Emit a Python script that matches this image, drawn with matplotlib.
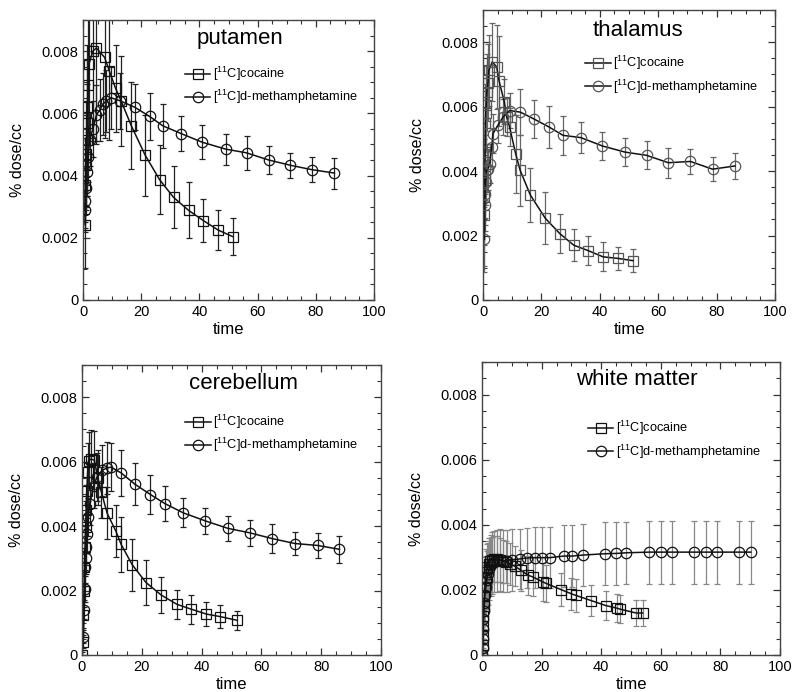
import numpy as np
import matplotlib
matplotlib.use("Agg")
import matplotlib.pyplot as plt
from matplotlib.ticker import MultipleLocator, FuncFormatter

plt.rcParams['font.family'] = ['Liberation Sans', 'DejaVu Sans']
plt.rcParams['mathtext.default'] = 'regular'

# ---------------- data (values in units of 1e-3 % dose/cc) ----------------
put_coc_t = [0.7, 0.8, 0.9, 1.1, 1.3, 1.4, 1.5, 1.8, 2.1, 3.4, 4.6, 7.4, 9.1, 11.2, 13.1, 16.6, 21.4, 26.3, 31.1, 36.3, 41.4, 46.4, 51.4]
put_coc_v = [2.42, 3.7, 4.35, 4.7, 5.15, 5.7, 6.2, 6.9, 7.6, 8.0, 8.1, 7.8, 7.35, 6.8, 6.4, 5.6, 4.65, 3.87, 3.3, 2.88, 2.55, 2.25, 2.04]
put_coc_e = [1.4, 1.5, 1.6, 1.7, 1.8, 2.0, 2.0, 2.2, 2.5, 2.8, 3.0, 2.6, 2.2, 1.4, 1.45, 1.4, 1.3, 1.1, 1.0, 0.9, 0.7, 0.65, 0.6]
put_met_t = [0.6, 0.7, 0.9, 1.3, 1.7, 2.3, 3.4, 4.6, 5.7, 6.9, 8.0, 9.7, 12.8, 17.7, 22.9, 27.4, 33.7, 41.0, 49.0, 56.2, 63.8, 71.3, 78.6, 86.4]
put_met_v = [2.9, 3.17, 3.6, 4.1, 4.6, 5.15, 5.5, 5.95, 6.1, 6.3, 6.4, 6.5, 6.4, 6.2, 5.9, 5.6, 5.35, 5.07, 4.85, 4.73, 4.5, 4.33, 4.19, 4.08]
put_met_e = [0.6, 0.65, 0.7, 0.75, 0.8, 0.85, 0.9, 0.95, 1.0, 1.0, 1.0, 1.0, 0.9, 0.75, 0.75, 0.7, 0.55, 0.55, 0.5, 0.55, 0.45, 0.4, 0.4, 0.5]

tha_coc_t = [0.4, 0.5, 0.6, 0.7, 0.8, 0.9, 1.1, 1.3, 1.7, 2.0, 3.2, 4.7, 5.5, 7.3, 8.1, 9.1, 11.2, 12.7, 16.2, 21.3, 26.3, 31.1, 36.1, 41.1, 46.3, 51.4]
tha_coc_v = [2.64, 3.2, 3.72, 4.6, 5.5, 5.8, 6.05, 6.45, 6.75, 7.13, 7.39, 7.23, 6.8, 6.15, 5.68, 5.37, 4.53, 4.03, 3.26, 2.54, 2.06, 1.7, 1.53, 1.34, 1.29, 1.22]
tha_coc_e = [1.6, 1.5, 1.4, 1.3, 1.2, 1.2, 1.2, 1.2, 1.2, 1.1, 1.2, 1.3, 1.4, 0.7, 0.6, 0.6, 1.2, 1.1, 0.85, 0.8, 0.6, 0.5, 0.45, 0.45, 0.35, 0.35]
tha_met_t = [0.5, 0.6, 0.7, 0.9, 1.2, 1.6, 2.3, 3.0, 3.4, 5.1, 6.9, 9.1, 12.8, 17.4, 22.6, 27.4, 33.5, 40.9, 48.6, 56.0, 63.5, 71.0, 78.6, 86.3]
tha_met_v = [1.88, 2.94, 3.3, 3.66, 4.02, 4.05, 4.23, 4.75, 5.16, 5.42, 5.68, 5.88, 5.83, 5.62, 5.37, 5.11, 5.04, 4.78, 4.59, 4.49, 4.26, 4.3, 4.06, 4.16]
tha_met_e = [1.0, 0.8, 0.75, 0.7, 0.65, 0.65, 0.6, 0.6, 0.6, 0.55, 0.55, 0.55, 0.72, 0.6, 0.65, 0.6, 0.49, 0.44, 0.44, 0.44, 0.46, 0.39, 0.38, 0.4]

cer_coc_t = [0.1, 0.3, 0.5, 0.7, 0.8, 1.0, 1.2, 1.4, 1.6, 1.9, 2.2, 3.0, 4.1, 5.3, 6.5, 8.4, 11.3, 13.1, 16.8, 21.4, 26.5, 31.8, 36.6, 41.6, 46.3, 51.7]
cer_coc_v = [0.0, 0.41, 1.24, 2.0, 2.73, 3.35, 3.97, 4.49, 5.1, 5.67, 6.03, 6.08, 6.05, 5.5, 5.05, 4.4, 3.85, 3.43, 2.8, 2.25, 1.86, 1.57, 1.42, 1.27, 1.19, 1.08]
cer_coc_e = [0.1, 0.2, 0.4, 0.5, 0.6, 0.7, 0.8, 0.8, 0.85, 0.9, 0.9, 0.9, 0.9, 0.85, 0.8, 0.8, 0.8, 0.85, 0.8, 0.7, 0.55, 0.45, 0.45, 0.38, 0.35, 0.3]
cer_met_t = [0.5, 0.7, 0.85, 1.1, 1.3, 1.5, 1.8, 2.1, 2.6, 3.9, 5.0, 6.7, 8.2, 9.7, 13.1, 17.7, 22.9, 27.7, 33.9, 41.3, 48.8, 56.2, 63.7, 71.2, 78.8, 86.1]
cer_met_v = [0.57, 1.41, 2.06, 2.73, 3.0, 3.35, 3.77, 4.28, 4.7, 5.26, 5.52, 5.73, 5.8, 5.83, 5.65, 5.3, 4.98, 4.7, 4.41, 4.16, 3.93, 3.79, 3.61, 3.46, 3.4, 3.28]
cer_met_e = [0.2, 0.3, 0.4, 0.5, 0.5, 0.55, 0.6, 0.6, 0.65, 0.7, 0.75, 0.8, 0.8, 0.75, 0.7, 0.65, 0.6, 0.55, 0.45, 0.4, 0.38, 0.4, 0.45, 0.37, 0.4, 0.42]

wm_coc_t = [0.1, 0.2, 0.3, 0.4, 0.5, 0.6, 0.8, 1.0, 1.2, 1.5, 1.8, 2.2, 2.7, 3.3, 4.0, 5.0, 6.0, 7.0, 8.0, 9.5, 11.0, 13.1, 15.5, 17.0, 20.5, 21.5, 26.5, 30.0, 31.5, 36.7, 41.5, 45.2, 46.3, 51.7, 53.9]
wm_coc_v = [0.0, 0.3, 0.6, 0.9, 1.2, 1.5, 1.8, 2.1, 2.35, 2.55, 2.7, 2.8, 2.88, 2.93, 2.95, 2.95, 2.92, 2.88, 2.85, 2.8, 2.73, 2.6, 2.45, 2.4, 2.24, 2.2, 2.01, 1.88, 1.83, 1.67, 1.52, 1.44, 1.41, 1.29, 1.29]
wm_coc_e = [0.1, 0.2, 0.3, 0.4, 0.5, 0.55, 0.6, 0.65, 0.7, 0.7, 0.7, 0.7, 0.7, 0.7, 0.7, 0.7, 0.68, 0.66, 0.65, 0.64, 0.62, 0.62, 0.6, 0.6, 0.58, 0.56, 0.52, 0.5, 0.5, 0.48, 0.46, 0.44, 0.42, 0.4, 0.4]
wm_met_t = [0.1, 0.2, 0.3, 0.4, 0.5, 0.6, 0.8, 1.0, 1.3, 1.6, 2.0, 2.5, 3.0, 3.5, 4.0, 5.0, 6.0, 7.0, 8.5, 10.0, 12.6, 15.2, 17.7, 20.2, 22.7, 27.5, 30.3, 33.9, 41.2, 45.1, 48.4, 56.1, 60.1, 63.6, 71.2, 75.1, 78.7, 86.3, 90.2]
wm_met_v = [0.0, 0.2, 0.5, 0.8, 1.1, 1.35, 1.6, 1.85, 2.1, 2.3, 2.5, 2.65, 2.75, 2.82, 2.87, 2.9, 2.92, 2.9, 2.9, 2.92, 2.95, 2.98, 2.99, 2.99, 2.99, 3.04, 3.04, 3.07, 3.11, 3.12, 3.14, 3.16, 3.16, 3.16, 3.16, 3.16, 3.16, 3.16, 3.16]
wm_met_e = [0.1, 0.2, 0.3, 0.45, 0.6, 0.7, 0.8, 0.85, 0.9, 0.9, 0.95, 0.95, 0.95, 0.95, 0.95, 0.95, 0.95, 0.95, 0.95, 0.95, 0.93, 0.93, 0.93, 0.93, 0.93, 0.95, 0.95, 0.95, 0.96, 0.96, 0.96, 0.97, 0.97, 0.97, 0.97, 0.97, 0.97, 0.97, 0.97]

titles = ['putamen', 'thalamus', 'cerebellum', 'white matter']
labels = ['[$^{11}$C]cocaine', '[$^{11}$C]d-methamphetamine']

panels = [
    dict(title=titles[0], coc=(put_coc_t, put_coc_v, put_coc_e), met=(put_met_t, put_met_v, put_met_e),
         rect=[83, 20, 374, 300], mk='#111111', ec='#222222', tx=0.54, ty=0.933, lg=(0.35, 0.84)),
    dict(title=titles[1], coc=(tha_coc_t, tha_coc_v, tha_coc_e), met=(tha_met_t, tha_met_v, tha_met_e),
         rect=[483, 10, 775, 300], mk='#555555', ec='#666666', tx=0.53, ty=0.928, lg=(0.35, 0.848)),
    dict(title=titles[2], coc=(cer_coc_t, cer_coc_v, cer_coc_e), met=(cer_met_t, cer_met_v, cer_met_e),
         rect=[82, 365, 381, 655], mk='#111111', ec='#222222', tx=0.54, ty=0.935, lg=(0.345, 0.835)),
    dict(title=titles[3], coc=(wm_coc_t, wm_coc_v, wm_coc_e), met=(wm_met_t, wm_met_v, wm_met_e),
         rect=[482, 362, 780, 655], mk='#111111', ec='#888888', tx=0.52, ty=0.94, lg=(0.355, 0.805)),
]

W, H = 793, 692
fig = plt.figure(figsize=(W / 100, H / 100), dpi=100)

for p in panels:
    l, t, r, b = p['rect']
    ax = fig.add_axes([l / W, 1 - b / H, (r - l) / W, (b - t) / H])
    handles = []
    for key, mkr in (('coc', 's'), ('met', 'o')):
        tt, vv, ee = p[key]
        vv = np.array(vv) * 1e-3
        ee = np.array(ee) * 1e-3
        cont = ax.errorbar(tt, vv, yerr=ee, fmt='-', marker=mkr, color='#111111', lw=1.1,
                           ms=7.5, mfc='none', mec=p['mk'], mew=0.9,
                           ecolor=p['ec'], elinewidth=0.9, capsize=2, capthick=0.9)
        handles.append(cont.lines[0])
    ax.set_xlim(0, 100)
    ax.set_ylim(0, 0.009)
    ax.xaxis.set_major_locator(MultipleLocator(20))
    ax.xaxis.set_minor_locator(MultipleLocator(5))
    ax.yaxis.set_major_locator(MultipleLocator(0.002))
    ax.yaxis.set_minor_locator(MultipleLocator(0.0005))
    ax.yaxis.set_major_formatter(FuncFormatter(lambda v, pos: '0' if abs(v) < 1e-12 else f'{v:.3f}'))
    ax.tick_params(which='both', direction='in', top=True, right=True, labelsize=10.5,
                   color='#333333')
    ax.tick_params(which='major', length=5, width=0.9)
    ax.tick_params(which='minor', length=3, width=0.8)
    for s in ax.spines.values():
        s.set_color('#444444')
        s.set_linewidth(1.0)
    ax.set_xlabel('time', fontsize=12, labelpad=2)
    ax.set_ylabel('% dose/cc', fontsize=11.5, labelpad=12)
    ax.text(p['tx'], p['ty'], p['title'], transform=ax.transAxes, ha='center', va='center', fontsize=16)
    ax.legend(handles, labels, loc='upper left', bbox_to_anchor=p['lg'], frameon=False,
              fontsize=9.2, handlelength=2.0, handletextpad=0.2, labelspacing=0.4,
              borderpad=0, borderaxespad=0)

fig.savefig('out.png', dpi=100)
